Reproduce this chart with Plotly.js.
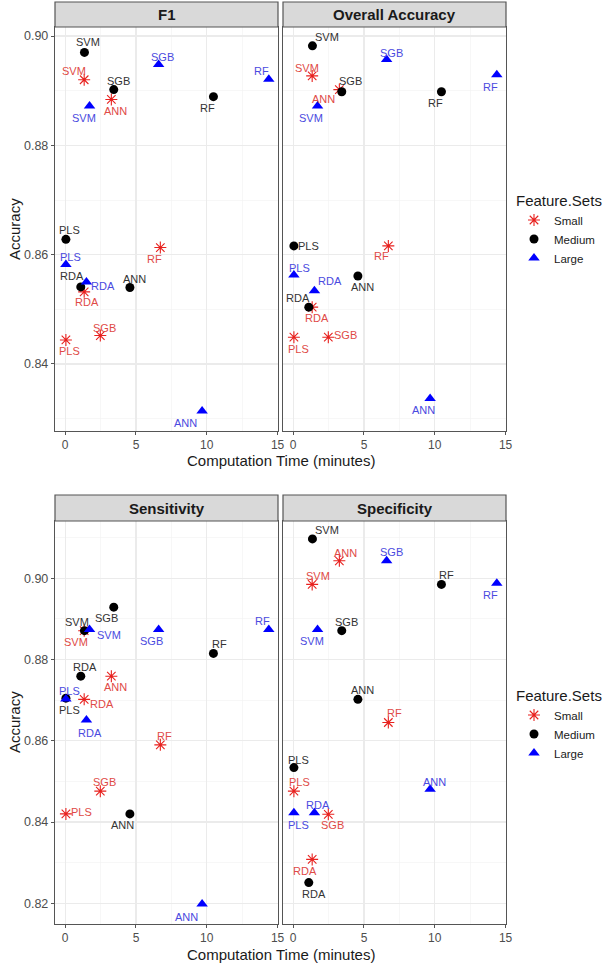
<!DOCTYPE html>
<html>
<head>
<meta charset="utf-8">
<script src="https://cdn.plot.ly/plotly-3.0.1.min.js"></script>
<style>
html,body{margin:0;padding:0;background:#fff;}
#chart{width:616px;height:964px;}
</style>
</head>
<body>
<div id="chart"></div>
<script>
// ---------- DATA ----------
const methods = ["PLS", "RDA", "SVM", "ANN", "SGB", "RF"];
const featureSets = ["Small", "Medium", "Large"];
const panelTitles = ["F1", "Overall Accuracy", "Sensitivity", "Specificity"];
const xTickVals = [0, 5, 10, 15];

// computation time (minutes) per feature set, order = methods
const timeSmall  = [0.05, 1.34, 1.34, 3.26, 2.48, 6.72];
const timeMedium = [0.05, 1.10, 1.36, 4.57, 3.43, 10.47];
const timeLarge  = [0.05, 1.50, 1.72, 9.67, 6.60, 14.38];

// metric values, order = methods
const f1Small  = [0.8444, 0.8532, 0.8920, 0.8884, 0.8452, 0.8613];
const f1Medium = [0.8628, 0.8541, 0.8970, 0.8540, 0.8902, 0.8889];
const f1Large  = [0.8582, 0.8550, 0.8872, 0.8314, 0.8948, 0.8921];

const oaSmall  = [0.8449, 0.8504, 0.8927, 0.8902, 0.8449, 0.8616];
const oaMedium = [0.8616, 0.8504, 0.8982, 0.8561, 0.8898, 0.8898];
const oaLarge  = [0.8563, 0.8534, 0.8872, 0.8337, 0.8957, 0.8929];

const sensSmall  = [0.8420, 0.8702, 0.8871, 0.8759, 0.8476, 0.8590];
const sensMedium = [0.8705, 0.8759, 0.8871, 0.8420, 0.8929, 0.8815];
const sensLarge  = [0.8703, 0.8651, 0.8874, 0.8198, 0.8874, 0.8874];

const specSmall  = [0.8476, 0.8308, 0.8985, 0.9043, 0.8419, 0.8645];
const specMedium = [0.8534, 0.8251, 0.9097, 0.8702, 0.8871, 0.8985];
const specLarge  = [0.8423, 0.8423, 0.8874, 0.8481, 0.9043, 0.8988];

// ---------- LABEL PLACEMENT (pixel offsets, like ggrepel) ----------
const labelOffsets = [
  [ // F1
    [[4,-11],[3,-10],[-10,9],[4,-12],[4,8],[-6,-11]],
    [[4,9],[-9,11],[4,10],[5,8],[5,9],[-6,-11]],
    [[5,8],[17,-4],[-6,-12],[-17,-12],[4,7],[-7,8]]
  ],
  [ // Overall
    [[5,-12],[5,-11],[-5,8],[-16,-9],[17,2],[-7,-10]],
    [[15,0],[-11,9],[15,9],[5,-11],[9,11],[-6,-11]],
    [[6,7],[16,10],[-7,-12],[-7,-12],[5,7],[-6,-12]]
  ],
  [ // Sensitivity
    [[16,2],[18,-5],[-8,-11],[4,-11],[4,9],[4,9]],
    [[4,-12],[4,9],[-7,9],[-7,-11],[-7,-11],[6,9]],
    [[4,8],[4,-13],[19,-6],[-16,-13],[-7,-12],[-6,8]]
  ],
  [ // Specificity
    [[6,9],[-7,-12],[6,8],[6,8],[4,-11],[6,10]],
    [[5,8],[5,-11],[15,9],[5,9],[5,9],[5,9]],
    [[5,-12],[4,8],[-6,-12],[4,7],[5,9],[-6,-12]]
  ]
];

// ---------- BUILD ----------
const W = 616, H = 964;
const times = [timeSmall, timeMedium, timeLarge];
const values = [
  [f1Small, f1Medium, f1Large],
  [oaSmall, oaMedium, oaLarge],
  [sensSmall, sensMedium, sensLarge],
  [specSmall, specMedium, specLarge]
];

const markerStyle = [
  {symbol: "asterisk-open", size: 10, color: "#E8211E", line: {width: 1.1, color: "#E8211E"}},
  {symbol: "circle", size: 9, color: "#000000"},
  {symbol: "triangle-up", size: 10, color: "#0000FF"}
];
const labelColor = ["#E04A46", "#333333", "#4A4AE0"];

// panel pixel boxes [x0, x1, y0, y1] (y from top)
const panels = [
  [55, 278, 27, 431],
  [283, 506, 27, 431],
  [55, 278, 521, 924],
  [283, 506, 521, 924]
];
const strips = [[2, 27], [2, 27], [495, 521], [495, 521]];
const yRanges = [[0.82774, 0.90165], [0.82774, 0.90165], [0.8149, 0.9141], [0.8149, 0.9141]];
const xRange = [-0.72, 15.03];

const px = v => v / W;
const py = v => 1 - v / H;

const traces = [];
const annotations = [];
const shapes = [];
const layout = {
  width: W, height: H,
  margin: {l: 0, r: 0, t: 0, b: 0},
  paper_bgcolor: "#ffffff",
  plot_bgcolor: "#ffffff",
  font: {family: "Liberation Sans, Arial, sans-serif", color: "#000"},
  showlegend: true
};

for (let p = 0; p < 4; p++) {
  const sfx = p === 0 ? "" : String(p + 1);
  const [x0, x1, y0, y1] = panels[p];
  const left = (p % 2 === 0);
  const bottomFig = p >= 2;
  layout["xaxis" + sfx] = {
    domain: [px(x0), px(x1)],
    anchor: "y" + sfx,
    range: xRange,
    tickvals: xTickVals,
    ticks: "outside", ticklen: 3, tickcolor: "#555555", tickwidth: 1,
    ticklabelstandoff: -1,
    tickfont: {size: 12, color: "#4D4D4D"},
    showgrid: true, gridcolor: "#EBEBEB", gridwidth: 1.1,
    minor: {dtick: 2.5, tick0: 0, showgrid: true, gridcolor: "#F2F2F2", gridwidth: 0.6},
    zeroline: false,
    showline: true, mirror: true, linecolor: "#555555", linewidth: 1.2
  };
  layout["yaxis" + sfx] = {
    domain: [py(y1), py(y0)],
    anchor: "x" + sfx,
    range: yRanges[p],
    dtick: 0.02, tick0: 0,
    tickformat: ".2f",
    ticks: left ? "outside" : "", ticklen: 3, tickcolor: "#555555", tickwidth: 1,
    showticklabels: left,
    tickfont: {size: 12.5, color: "#4D4D4D"},
    showgrid: true, gridcolor: "#EBEBEB", gridwidth: 1.1,
    minor: {dtick: 0.01, tick0: 0, showgrid: true, gridcolor: "#F2F2F2", gridwidth: 0.6},
    zeroline: false,
    showline: true, mirror: true, linecolor: "#555555", linewidth: 1.2
  };

  // strip
  shapes.push({
    type: "rect", xref: "paper", yref: "paper",
    x0: px(x0), x1: px(x1), y0: py(strips[p][1]), y1: py(strips[p][0]),
    fillcolor: "#D9D9D9", line: {color: "#555555", width: 1.2}
  });
  annotations.push({
    xref: "paper", yref: "paper",
    x: px((x0 + x1) / 2), y: py((strips[p][0] + strips[p][1]) / 2),
    xanchor: "center", yanchor: "middle",
    text: "<b>" + panelTitles[p] + "</b>",
    showarrow: false,
    font: {size: 15, color: "#1A1A1A"}
  });

  for (let s = 0; s < 3; s++) {
    traces.push({
      type: "scatter", mode: "markers",
      x: times[s], y: values[p][s],
      xaxis: "x" + sfx, yaxis: "y" + sfx,
      name: featureSets[s],
      legendgroup: (bottomFig ? "b" : "t") + featureSets[s],
      legend: bottomFig ? "legend2" : "legend",
      showlegend: left,
      marker: markerStyle[s],
      cliponaxis: false,
      hoverinfo: "skip"
    });
    for (let m = 0; m < methods.length; m++) {
      const off = labelOffsets[p][s][m];
      annotations.push({
        xref: "x" + sfx, yref: "y" + sfx,
        x: times[s][m], y: values[p][s][m],
        xshift: off[0], yshift: off[1],
        xanchor: "center", yanchor: "middle",
        text: methods[m], showarrow: false,
        font: {size: 11, color: labelColor[s]}
      });
    }
  }
}

// axis titles
[[460, 229], [954, 722]].forEach(([xt, yt]) => {
  annotations.push({
    xref: "paper", yref: "paper", x: px(281), y: py(xt),
    xanchor: "center", yanchor: "middle",
    text: "Computation Time (minutes)", showarrow: false,
    font: {size: 15, color: "#1A1A1A"}
  });
  annotations.push({
    xref: "paper", yref: "paper", x: px(14), y: py(yt),
    xanchor: "center", yanchor: "middle", textangle: -90,
    text: "Accuracy", showarrow: false,
    font: {size: 15, color: "#1A1A1A"}
  });
});

const legendBase = {
  xanchor: "left", yanchor: "top",
  bgcolor: "rgba(0,0,0,0)",
  font: {size: 11.5, color: "#1A1A1A"},
  title: {text: "Feature.Sets", font: {size: 15, color: "#1A1A1A"}, side: "top"},
  itemwidth: 30, tracegroupgap: 0
};
layout.legend = Object.assign({}, legendBase, {x: px(514), y: py(186)});
layout.legend2 = Object.assign({}, legendBase, {x: px(514), y: py(681)});
layout.legend2.title = Object.assign({}, legendBase.title);

layout.annotations = annotations;
layout.shapes = shapes;

Plotly.newPlot("chart", traces, layout, {staticPlot: true, displayModeBar: false});
</script>
</body>
</html>
